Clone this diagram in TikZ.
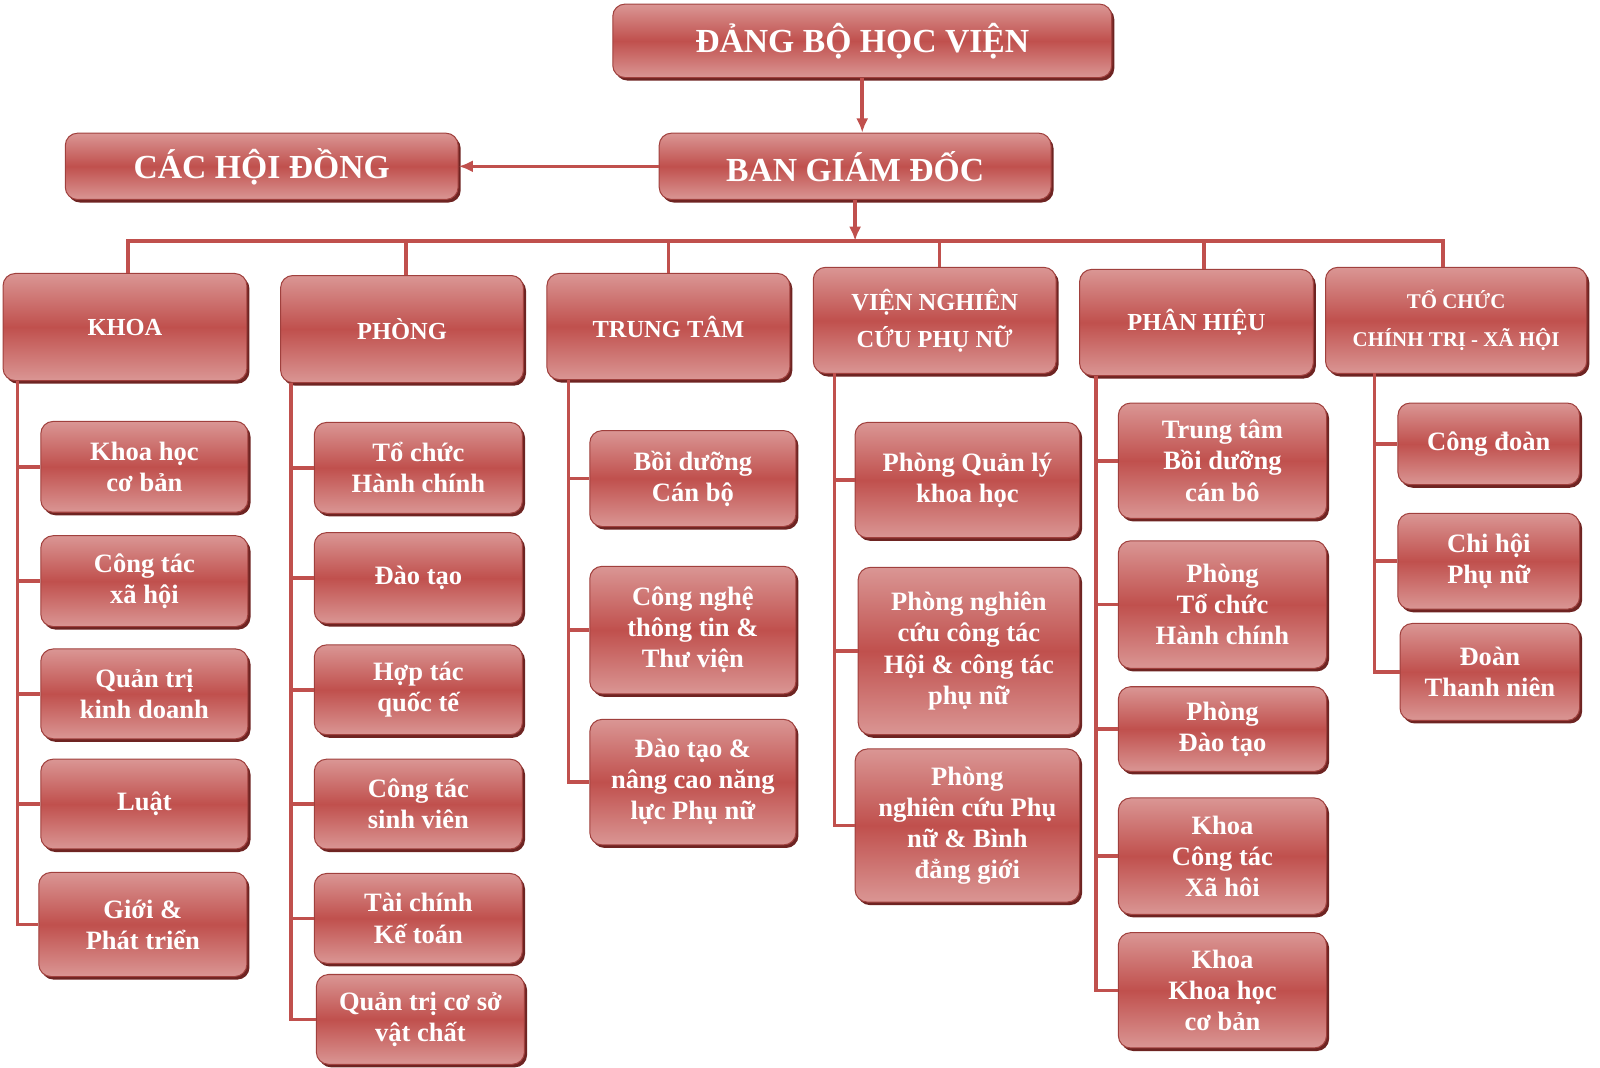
\documentclass[tikz,border=0pt]{standalone}
\usepackage{fontspec}
\setmainfont{Liberation Serif}
\usepackage{tikz}
\usetikzlibrary{positioning}
\usetikzlibrary{arrows.meta,shadows}

\definecolor{orgred}{HTML}{C0504D}
\definecolor{orgpink}{HTML}{DA9694}
\definecolor{orgedge}{HTML}{A0403D}
\definecolor{orgshadow}{HTML}{6E2422}

\tikzset{
	unitbox/.style={rounded corners=12pt, draw=orgedge, line width=1pt,
		top color=orgpink, bottom color=orgpink, middle color=orgred,
		drop shadow={shadow xshift=2.5pt, shadow yshift=-3pt, fill=orgshadow, opacity=1},
		text=white, align=center, inner sep=0pt,
		font=\fontsize{26}{30.5}\selectfont\bfseries},
	topbox/.style={unitbox, font=\fontsize{33}{36}\selectfont\bfseries},
	headbox/.style={unitbox, font=\fontsize{24}{36}\selectfont\bfseries},
	link/.style={draw=orgred, line width=3.5pt},
}

\begin{document}
\begin{tikzpicture}[x=1pt,y=-1pt,>={Latex[length=14pt,width=12pt]}]
		\useasboundingbox (0,0) rectangle (1568,1045.7);

		\node[topbox, minimum width=489pt, minimum height=72pt] (dang) at (845,40) {ĐẢNG BỘ HỌC VIỆN};
		\node[topbox, minimum width=384pt, minimum height=65pt] (bgd) at (838,163) {BAN GIÁM ĐỐC};
		\node[topbox, minimum width=385pt, minimum height=65pt] (hoidong) [left = 196pt of bgd] {CÁC HỘI ĐỒNG};

		\node[headbox, minimum width=239pt, minimum height=105pt] (khoa) at (122.5,320.5) {KHOA};
		\node[headbox, minimum width=238pt, minimum height=105pt] (phong) at (394,322.5) {PHÒNG};
		\node[headbox, minimum width=238pt, minimum height=104pt] (ttam) at (655,320) {TRUNG TÂM};
		\node[headbox, minimum width=238pt, minimum height=104pt] (vien) at (916,314) {VIỆN NGHIÊN\\CỨU PHỤ NỮ};
		\node[headbox, minimum width=229pt, minimum height=104pt] (phieu) at (1172.5,316) {PHÂN HIỆU};
		\node[headbox, minimum width=256pt, minimum height=104pt, font=\fontsize{20.5}{37}\selectfont\bfseries] (tochuc) at (1427,314) {TỔ CHỨC\\CHÍNH TRỊ - XÃ HỘI};

		\node[unitbox, minimum width=203pt, minimum height=89pt] (k1) at (141.5,457.5) {Khoa học\\cơ bản};
		\node[unitbox, minimum width=203pt, minimum height=89pt] (k2) at (141.5,569.5) {Công tác\\xã hội};
		\node[unitbox, minimum width=203pt, minimum height=88pt] (k3) at (141.5,680) {Quản trị\\kinh doanh};
		\node[unitbox, minimum width=203pt, minimum height=88pt] (k4) at (141.5,788) {Luật};
		\node[unitbox, minimum width=204pt, minimum height=102pt] (k5) at (140,906) {Giới \&\\Phát triển};

		\node[unitbox, minimum width=204pt, minimum height=89pt] (p1) at (410,458.5) {Tổ chức\\Hành chính};
		\node[unitbox, minimum width=204pt, minimum height=89pt] (p2) at (410,566.5) {Đào tạo};
		\node[unitbox, minimum width=204pt, minimum height=88pt] (p3) at (410,676) {Hợp tác\\quốc tế};
		\node[unitbox, minimum width=204pt, minimum height=88pt] (p4) at (410,788) {Công tác\\sinh viên};
		\node[unitbox, minimum width=204pt, minimum height=88pt] (p5) at (410,900) {Tài chính\\Kế toán};
		\node[unitbox, minimum width=204pt, minimum height=88pt] (p6) at (412,999) {Quản trị cơ sở\\vật chất};

		\node[unitbox, minimum width=202pt, minimum height=94pt] (t1) at (679,469) {Bồi dưỡng\\Cán bộ};
		\node[unitbox, minimum width=202pt, minimum height=125pt] (t2) at (679,617.5) {Công nghệ\\thông tin \&\\Thư viện};
		\node[unitbox, minimum width=202pt, minimum height=123pt] (t3) at (679,766.5) {Đào tạo \&\\nâng cao năng\\lực Phụ nữ};

		\node[unitbox, minimum width=220pt, minimum height=113pt] (v1) at (948,470.5) {Phòng Quản lý\\khoa học};
		\node[unitbox, minimum width=217pt, minimum height=164pt] (v2) at (949.5,638) {Phòng nghiên\\cứu công tác\\Hội \& công tác\\phụ nữ};
		\node[unitbox, minimum width=220pt, minimum height=150pt] (v3) at (948,809) {Phòng\\nghiên cứu Phụ\\nữ \& Bình\\đẳng giới};

		\node[unitbox, minimum width=204pt, minimum height=113pt] (h1) at (1198,451.5) {Trung tâm\\Bồi dưỡng\\cán bô};
		\node[unitbox, minimum width=204pt, minimum height=125pt] (h2) at (1198,592.5) {Phòng\\Tổ chức\\Hành chính};
		\node[unitbox, minimum width=204pt, minimum height=83pt] (h3) at (1198,714.5) {Phòng\\Đào tạo};
		\node[unitbox, minimum width=204pt, minimum height=114pt] (h4) at (1198,839) {Khoa\\Công tác\\Xã hôi};
		\node[unitbox, minimum width=204pt, minimum height=113pt] (h5) at (1198,970.5) {Khoa\\Khoa học\\cơ bản};

		\node[unitbox, minimum width=178pt, minimum height=80pt] (c1) at (1459,435) {Công đoàn};
		\node[unitbox, minimum width=178pt, minimum height=94pt] (c2) at (1459,550) {Chi hội\\Phụ nữ};
		\node[unitbox, minimum width=176pt, minimum height=95pt] (c3) at (1460,658.5) {Đoàn\\Thanh niên};

		\coordinate (bus) at (843,236);
		\coordinate (khoatop) at (17,373);
		\coordinate (phongtop) at (285,375);
		\coordinate (ttamtop) at (557,372);
		\coordinate (vientop) at (818,366);
		\coordinate (phieutop) at (1074,368);
		\coordinate (tochuctop) at (1347,366);

		\draw[link,->] (dang.south) -- (dang.south |- bgd.north);
		\draw[link,->] (bgd.west) -- (hoidong.east);
		\draw[link,->] (bgd.south) -- (bgd.south |- bus);
		\draw[link] (khoa.87) -- (khoa.87 |- bus) -- (tochuc.104 |- bus) -- (tochuc.104);
		\foreach \h/\a in {phong/86,ttam/90,vien/85,phieu/82}
			\draw[link] (\h.\a) -- (\h.\a |- bus);

		\foreach \c in {k1,k2,k3,k4,k5}
			\draw[link] (khoatop) |- (\c.west);
		\foreach \c in {p1,p2,p3,p4,p5,p6}
			\draw[link] (phongtop) |- (\c.west);
		\foreach \c in {t1,t2,t3}
			\draw[link] (ttamtop) |- (\c.west);
		\foreach \c in {v1,v2,v3}
			\draw[link] (vientop) |- (\c.west);
		\foreach \c in {h1,h2,h3,h4,h5}
			\draw[link] (phieutop) |- (\c.west);
		\foreach \c in {c1,c2,c3}
			\draw[link] (tochuctop) |- (\c.west);
	\end{tikzpicture}
\end{document}
